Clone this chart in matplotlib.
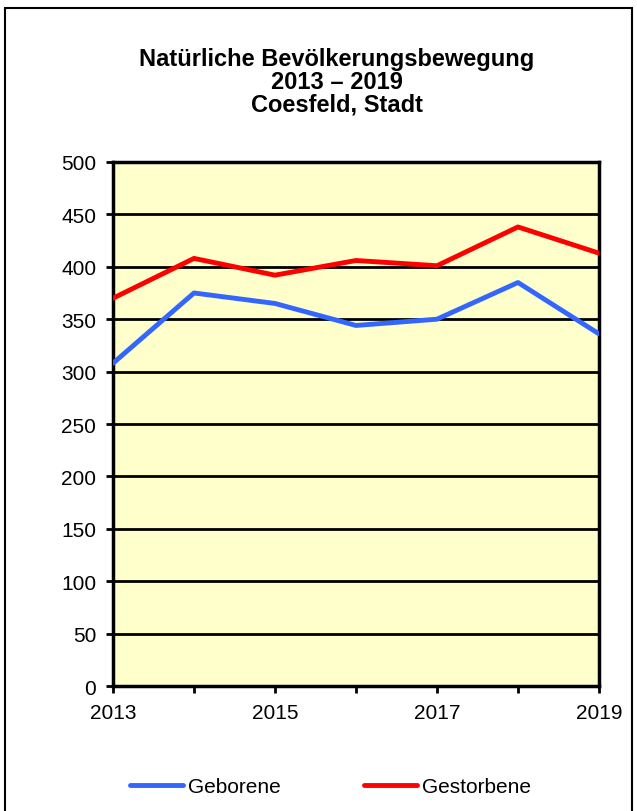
import matplotlib.pyplot as plt
from matplotlib.patches import Rectangle

plt.rcParams['font.family'] = ['Liberation Sans', 'DejaVu Sans']

jahre = [2013, 2014, 2015, 2016, 2017, 2018, 2019]
geborene = [308, 375, 365, 344, 350, 385, 336]
gestorbene = [370, 408, 392, 406, 401, 438, 413]
xlabels = ['2013', '', '2015', '', '2017', '', '2019']

fig = plt.figure(figsize=(6.37, 8.12), dpi=100)
ax = fig.add_axes([0.1774, 0.1539, 0.7629, 0.6454])

# Rahmen um die ganze Grafik
fig.patches.append(Rectangle((5 / 637, -0.01), 627 / 637, 1 - 9 / 812 + 0.01,
                             transform=fig.transFigure, fill=False,
                             edgecolor='black', linewidth=1.5))

ax.set_facecolor('#FFFFCC')
for y in range(50, 501, 50):
    ax.axhline(y, color='black', linewidth=2, zorder=1)

ax.plot(jahre, geborene, color='#3366FF', linewidth=3.5, label='Geborene',
        zorder=3, solid_capstyle='round')
ax.plot(jahre, gestorbene, color='#FF0000', linewidth=3.5, label='Gestorbene',
        zorder=3, solid_capstyle='round')

ax.set_xlim(2013, 2019)
ax.set_ylim(0, 500)
ax.set_yticks(range(0, 501, 50))
ax.set_xticks(jahre)
ax.set_xticklabels(xlabels)
ax.tick_params(axis='both', direction='out', length=5, width=2,
               labelsize=15, colors='black')
ax.tick_params(axis='y', pad=7)
ax.tick_params(axis='x', pad=7)
for s in ax.spines.values():
    s.set_linewidth(2.5)
    s.set_color('black')

fig.text(0.529, 0.941, 'Natürliche Bevölkerungsbewegung\n2013 – 2019\nCoesfeld, Stadt',
         ha='center', va='top', fontsize=17, fontweight='bold', linespacing=1.0)

fig.legend(loc='center', bbox_to_anchor=(0.519, 0.0296), ncol=2, frameon=False,
           fontsize=15, handlelength=2.55, handletextpad=0.25, columnspacing=4.0)

fig.savefig('out.png', dpi=100)
